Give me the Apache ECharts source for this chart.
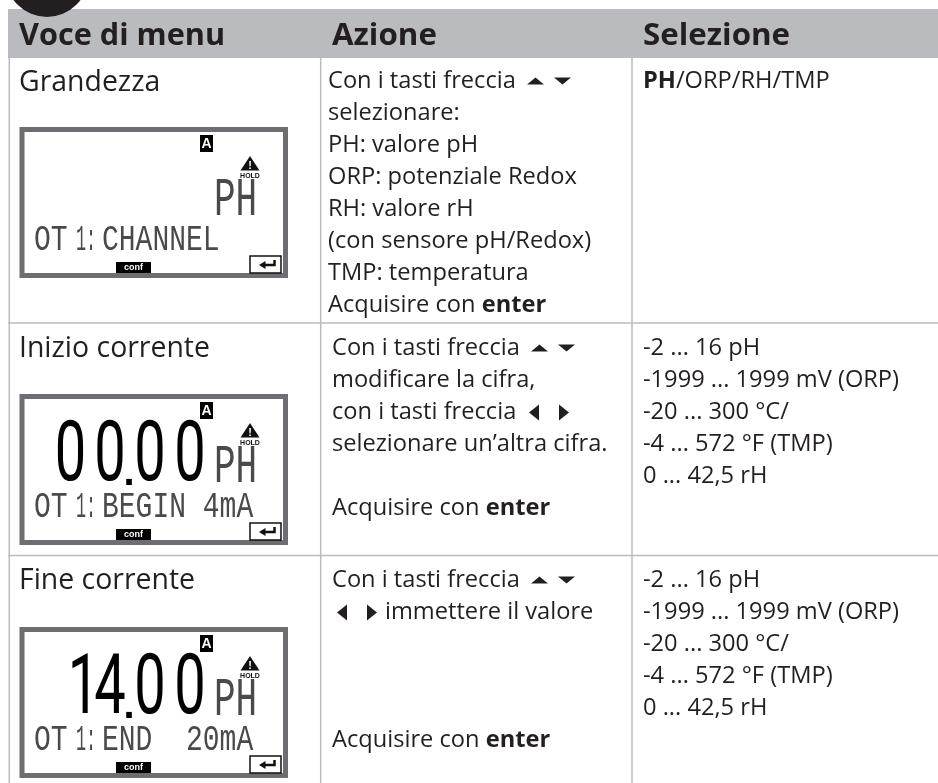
<!DOCTYPE html>
<html>
<head>
<meta charset="utf-8">
<script src="https://cdn.jsdelivr.net/npm/echarts@6/dist/echarts.min.js"></script>
<style>
  html, body { margin: 0; padding: 0; background: #fff; }
  #main { width: 938px; height: 783px; }
</style>
</head>
<body>
<div id="main"></div>
<script>
// testi della tabella
const headers = ['Voce di menu', 'Azione', 'Selezione']
const rowTitles = ['Grandezza', 'Inizio corrente', 'Fine corrente']
const actionLines = [
  ['Con i tasti freccia', 'selezionare:', 'PH: valore pH', 'ORP: potenziale Redox', 'RH: valore rH',
    '(con sensore pH/Redox)', 'TMP: temperatura', 'Acquisire con {b|enter}'],
  ['Con i tasti freccia', 'modificare la cifra,', 'con i tasti freccia', 'selezionare un’altra cifra.',
    '', 'Acquisire con {b|enter}'],
  ['Con i tasti freccia', 'immettere il valore', '', '', '', 'Acquisire con {b|enter}'],
]
const rangeLines = ['-2 ... 16 pH', '-1999 ... 1999 mV (ORP)', '-20 ... 300 °C/', '-4 ... 572 °F (TMP)', '0 ... 42,5 rH']
const selectionLines = [['{b|PH}/ORP/RH/TMP'], rangeLines, rangeLines]

// display LCD
const lcdReadings = ['', '00.00', '14.00']
const lcdUnit = 'PH'
const lcdPrefix = ['OT', '1:']
const lcdMessages = ['CHANNEL', 'BEGIN 4mA', 'END  20mA']

// ── layout ──
const INK = '#231f20'
const GREY = '#babbbe'
const LCD_INK = '#4a4a4a'
const FONT = '"Open Sans", "Noto Sans", sans-serif'
const colX = [19, 332, 643]
const colLines = [9.3, 320.7, 632]
const rowLines = [323, 555.5]
const titleBase = [92.5, 358.5, 590.5]
const lineBase = [89.5, 356.5, 588.5]
const lineX = [328, 332, 332]
const lcdTop = [127, 394, 627]
const digitCenter = [70.5, 110, 150, 190]

const els = []

function rect(x, y, w, h, fill, extra) {
  els.push({ type: 'rect', shape: { x, y, width: w, height: h }, style: { fill, ...extra } })
}

function poly(points, fill) {
  els.push({ type: 'polygon', shape: { points }, style: { fill } })
}

// base = linea di base del testo
function label(x, base, text, size, opts = {}) {
  const sy = opts.sy || 1
  const weight = opts.weight || 'normal'
  const family = opts.family || FONT
  els.push({
    type: 'text', x, y: base - 0.33 * size * sy, scaleX: opts.sx || 1, scaleY: sy,
    style: {
      text, fill: opts.fill || INK, font: `${weight} ${size}px ${family}`,
      align: opts.align || 'left', verticalAlign: 'middle',
      rich: opts.rich,
    },
  })
}

const bodyRich = { b: { font: `bold 24px ${FONT}`, fill: INK } }

// frecce dei tasti
const upDown = (x, base) => {
  poly([[x + 8.5, base - 12], [x + 17, base - 5], [x, base - 5]], INK)
  poly([[x + 27, base - 12], [x + 44, base - 12], [x + 35.5, base - 5]], INK)
}
const leftRight = (x, gap, base) => {
  poly([[x, base - 8], [x + 10, base - 16], [x + 10, base]], INK)
  poly([[x + gap, base - 16], [x + gap + 10, base - 8], [x + gap, base]], INK)
}

// ── intestazione e griglia ──
rect(8, 9, 930, 49, GREY)
els.push({ type: 'circle', shape: { cx: 47, cy: -24.5, r: 41.5 }, style: { fill: INK } })
headers.forEach((h, i) => label(colX[i], 46.5, h, 31, { weight: 'bold', sx: i === 0 ? 0.99 : 1.01 }))
colLines.forEach(x => rect(x - 0.75, 58, 1.5, 725, GREY))
rowLines.forEach(y => rect(8, y - 0.75, 930, 1.5, GREY))

// ── righe ──
rowTitles.forEach((t, r) => {
  label(19, titleBase[r], t, 29, { sx: 0.98 })
  actionLines[r].forEach((line, i) => {
    if (!line) return
    const x = r === 2 && i === 1 ? 385 : lineX[r]
    label(x, lineBase[r] + i * 32, line, 24, { rich: bodyRich, sx: 0.985 })
  })
  selectionLines[r].forEach((line, i) => {
    label(643, lineBase[r] - 0.5 + i * 32, line, 24, { rich: bodyRich, sx: 0.985 })
  })
  drawLcd(lcdTop[r], r)
})
upDown(527, lineBase[0])
upDown(531, lineBase[1])
leftRight(529, 30, lineBase[1] + 64)
upDown(531, lineBase[2])
leftRight(337, 30, lineBase[2] + 32)

// ── display ──
function drawLcd(top, r) {
  rect(22, top + 2.5, 263.5, 146, '#fff', { stroke: '#6d6e71', lineWidth: 5 })
  // indicatore canale
  rect(200, top + 8, 13, 17, '#000')
  label(206.5, top + 22, 'A', 14, { weight: 'bold', fill: '#fff', align: 'center', family: '"Liberation Sans"' })
  // triangolo HOLD
  poly([[250, top + 29], [259.5, top + 43.5], [240.5, top + 43.5]], '#111')
  label(250, top + 42.5, '!', 11, { weight: 'bold', fill: '#fff', align: 'center', family: '"Liberation Sans"' })
  label(250, top + 51.5, 'HOLD', 7, { weight: 'bold', fill: '#111', align: 'center', family: '"Liberation Sans"' })

  // cifre grandi
  let d = 0
  for (const ch of lcdReadings[r]) {
    if (ch === '.') {
      label(129, top + 93, ch, 40, { weight: 'bold', fill: '#000', align: 'center', family: '"Liberation Sans"' })
    } else {
      const x = digitCenter[d++] + (ch === '1' ? 13 : 0)
      label(x, top + 93, ch, 50, { fill: '#000', align: 'center', family: 'Roboto', sx: 1.12, sy: 1.66 })
    }
  }
  // unita'
  label(214, top + 92, lcdUnit, 36, { fill: LCD_INK, family: '"Liberation Mono"', sy: 1.5 })
  // riga messaggi
  label(34, top + 125, lcdPrefix[0], 28, { fill: LCD_INK, family: '"Liberation Mono"', sy: 1.3 })
  label(76, top + 125, lcdPrefix[1], 28, { fill: LCD_INK, family: '"Liberation Mono"', sy: 1.3, sx: 0.6 })
  label(102, top + 125, lcdMessages[r], 28, { fill: LCD_INK, family: '"Liberation Mono"', sy: 1.3 })

  // conf
  rect(116, top + 135, 35, 11, '#000')
  label(133.5, top + 143.5, 'conf', 9, { weight: 'bold', fill: '#fff', align: 'center', family: '"Liberation Sans"' })
  // tasto enter
  rect(250, top + 129, 31, 17, '#fff', { stroke: '#111', lineWidth: 1.5 })
  els.push({ type: 'polyline', shape: { points: [[274.5, top + 133], [274.5, top + 138], [264, top + 138]] }, style: { stroke: '#111', lineWidth: 2.5, fill: null } })
  poly([[259, top + 138], [265.5, top + 134], [265.5, top + 142]], '#111')
}

const chart = echarts.init(document.getElementById('main'), undefined, { renderer: 'canvas' })
chart.setOption({ animation: false, backgroundColor: '#fff', graphic: { elements: els } })
</script>
</body>
</html>
